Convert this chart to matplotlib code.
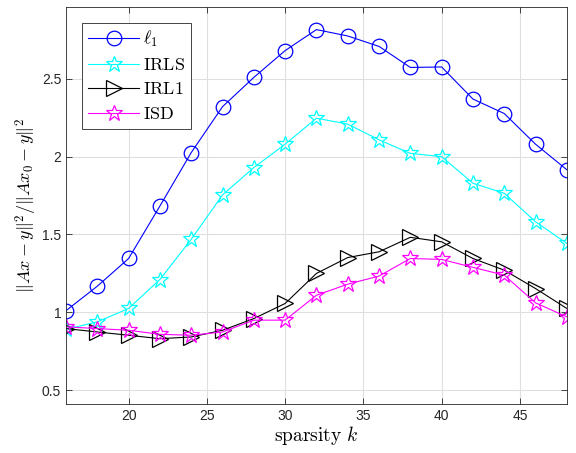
import numpy as np, matplotlib; matplotlib.use("Agg")
import matplotlib.pyplot as plt
from matplotlib.ticker import FormatStrFormatter

plt.rcParams["mathtext.fontset"] = "cm"
plt.rcParams["font.family"] = ["Liberation Sans", "DejaVu Sans"]

k = [16, 18, 20, 22, 24, 26, 28, 30, 32, 34, 36, 38, 40, 42, 44, 46, 48]
l1   = [1.01, 1.167, 1.345, 1.682, 2.025, 2.32, 2.508, 2.68, 2.815, 2.774, 2.707, 2.572, 2.575, 2.369, 2.276, 2.079, 1.915]
irls = [0.89, 0.938, 1.024, 1.21, 1.468, 1.753, 1.929, 2.079, 2.246, 2.208, 2.107, 2.02, 1.999, 1.828, 1.764, 1.581, 1.442]
irl1 = [0.895, 0.873, 0.852, 0.83, 0.841, 0.884, 0.959, 1.056, 1.249, 1.351, 1.388, 1.481, 1.452, 1.345, 1.27, 1.152, 1.024]
isd  = [0.906, 0.895, 0.884, 0.858, 0.852, 0.873, 0.949, 0.949, 1.109, 1.18, 1.232, 1.345, 1.339, 1.288, 1.238, 1.06, 0.97]

fig = plt.figure(figsize=(5.76, 4.53), dpi=100)
ax = fig.add_axes([0.1146, 0.108, 0.8695, 0.8765])

kw = dict(lw=0.8, mfc="none", mew=0.9)
ax.plot(k, l1, "-o", color="blue", ms=10.5, label=r"$\ell_1$", **kw)
ax.plot(k, irls, "-*", color="cyan", ms=12, label=r"$\mathrm{IRLS}$", **kw)
ax.plot(k, irl1, "->", color="black", ms=11, label=r"$\mathrm{IRL1}$", **kw)
ax.plot(k, isd, "-*", color="magenta", ms=12, label=r"$\mathrm{ISD}$", **kw)

ax.set_xlim(16, 48)
ax.set_ylim(0.41, 2.96)
ax.set_xticks([20, 25, 30, 35, 40, 45])
ax.set_yticks([0.5, 1, 1.5, 2, 2.5])
ax.yaxis.set_major_formatter(FormatStrFormatter("%g"))
ax.grid(True, color="#dfdfdf", lw=0.8)
ax.set_axisbelow(True)
ax.tick_params(direction="in", top=True, right=True, labelsize=10,
               colors="#262626", length=4, width=0.6)
for s in ax.spines.values():
    s.set_color("#262626"); s.set_linewidth(0.6)

ax.set_xlabel(r"$\mathrm{sparsity}\ k$", fontsize=14, labelpad=1)
ax.set_ylabel(r"$\|Ax-y\|^2/\|Ax_0-y\|^2$", fontsize=13, labelpad=2)

leg = ax.legend(loc="upper left", bbox_to_anchor=(0.032, 0.96), fontsize=13,
                handlelength=2.8, handletextpad=0.2, borderpad=0.35,
                labelspacing=0.42, fancybox=False, framealpha=1,
                edgecolor="#262626", borderaxespad=0)
leg.get_frame().set_linewidth(0.6)

fig.savefig("out.png", dpi=100)
